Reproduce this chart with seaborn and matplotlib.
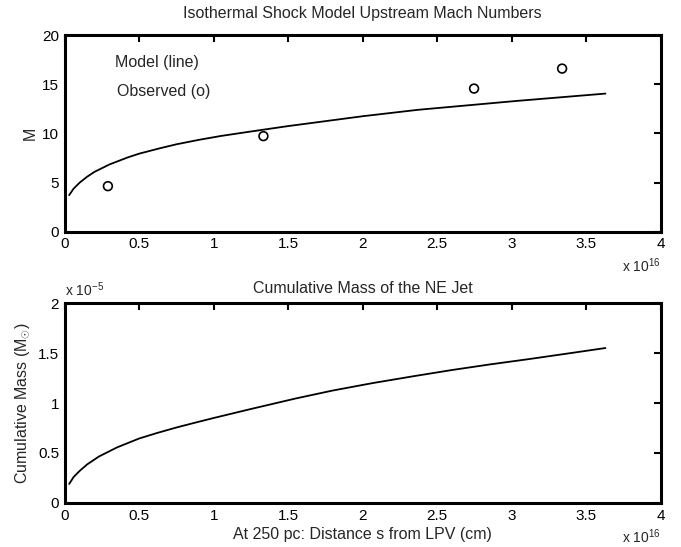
import matplotlib
matplotlib.use("Agg")
import matplotlib.pyplot as plt
import seaborn as sns
import pandas as pd

# Model curve (x in units of 1e16 cm)
model_x = [0.03, 0.06, 0.1, 0.15, 0.2, 0.3, 0.42, 0.5, 0.64, 0.75, 0.9, 1.05, 1.25, 1.5, 1.75, 2.0, 2.37, 2.7, 3.03, 3.35, 3.63]
model_M = [3.74, 4.4, 5.0, 5.6, 6.1, 6.85, 7.55, 7.95, 8.5, 8.9, 9.35, 9.75, 10.2, 10.75, 11.25, 11.75, 12.4, 12.85, 13.3, 13.7, 14.05]

# Observed Mach numbers
obs_x = [0.29, 1.334, 2.748, 3.339]
obs_M = [4.65, 9.73, 14.56, 16.59]

# Cumulative mass (units of 1e-5 Msun)
mass_x = [0.03, 0.06, 0.1, 0.15, 0.23, 0.35, 0.5, 0.62, 0.75, 0.88, 1.0, 1.25, 1.55, 1.8, 2.07, 2.35, 2.6, 2.85, 3.12, 3.4, 3.63]
mass_y = [0.19, 0.26, 0.32, 0.385, 0.465, 0.555, 0.645, 0.7, 0.755, 0.805, 0.85, 0.94, 1.045, 1.125, 1.2, 1.27, 1.33, 1.385, 1.44, 1.5, 1.55]

x_ticks = [0, 0.5, 1, 1.5, 2, 2.5, 3, 3.5, 4]
x_ticklabels = ["0", "0.5", "1", "1.5", "2", "2.5", "3", "3.5", "4"]
m_ticks = [0, 5, 10, 15, 20]
mass_ticks = [0, 0.5, 1, 1.5, 2]
mass_ticklabels = ["0", "0.5", "1", "1.5", "2"]

sns.set_style("white")
plt.rcParams['font.family'] = ['Liberation Sans', 'DejaVu Sans']
plt.rcParams['mathtext.fontset'] = 'custom'
plt.rcParams['mathtext.rm'] = 'Liberation Sans'
plt.rcParams['mathtext.it'] = 'Liberation Sans'

FS = 11.5

fig = plt.figure(figsize=(6.81, 5.47), dpi=100)
ax1 = fig.add_axes([0.095, 0.576, 0.875, 0.360])
ax2 = fig.add_axes([0.095, 0.0805, 0.875, 0.3655])

df_model = pd.DataFrame({"x": model_x, "M": model_M})
df_obs = pd.DataFrame({"x": obs_x, "M": obs_M})
df_mass = pd.DataFrame({"x": mass_x, "m": mass_y})

sns.lineplot(data=df_model, x="x", y="M", ax=ax1, color="black", linewidth=1.3)
sns.scatterplot(data=df_obs, x="x", y="M", ax=ax1, marker="o", s=40,
                facecolors="none", edgecolor="black", linewidth=1.2)
sns.lineplot(data=df_mass, x="x", y="m", ax=ax2, color="black", linewidth=1.3)

for ax in (ax1, ax2):
    ax.set_xlim(0, 4)
    ax.set_xticks(x_ticks)
    ax.set_xticklabels(x_ticklabels)
    ax.tick_params(direction="in", length=5, width=1.5, top=True, right=True,
                   labelsize=11, colors="black", pad=4)
    for sp in ax.spines.values():
        sp.set_linewidth(2.2)
        sp.set_color("black")
    ax.annotate(r"x 10$^{16}$", xy=(1.0, 0.0), xycoords="axes fraction",
                xytext=(0, -24), textcoords="offset points",
                ha="right", va="center", fontsize=10)

ax1.set_ylim(0, 20)
ax1.set_yticks(m_ticks)
ax1.set_xlabel("")
ax1.set_ylabel("M", fontsize=FS, labelpad=3)
ax1.set_title("Isothermal Shock Model Upstream Mach Numbers", fontsize=FS, pad=12)
ax1.text(0.34, 17.2, "Model (line)", fontsize=FS, va="center")
ax1.text(0.35, 14.3, "Observed (o)", fontsize=FS, va="center")

ax2.set_ylim(0, 2)
ax2.set_yticks(mass_ticks)
ax2.set_yticklabels(mass_ticklabels)
ax2.set_xlabel("At 250 pc: Distance s from LPV (cm)", fontsize=FS, labelpad=3)
ax2.set_ylabel(r"Cumulative Mass (M$_{\odot}$)", fontsize=FS, labelpad=4)
ax2.set_title("Cumulative Mass of the NE Jet", fontsize=FS, pad=7)
ax2.annotate(r"x 10$^{-5}$", xy=(0.0, 1.0), xycoords="axes fraction",
             xytext=(0, 3), textcoords="offset points",
             ha="left", va="bottom", fontsize=10)

fig.savefig("out.png", dpi=100, facecolor="white")
